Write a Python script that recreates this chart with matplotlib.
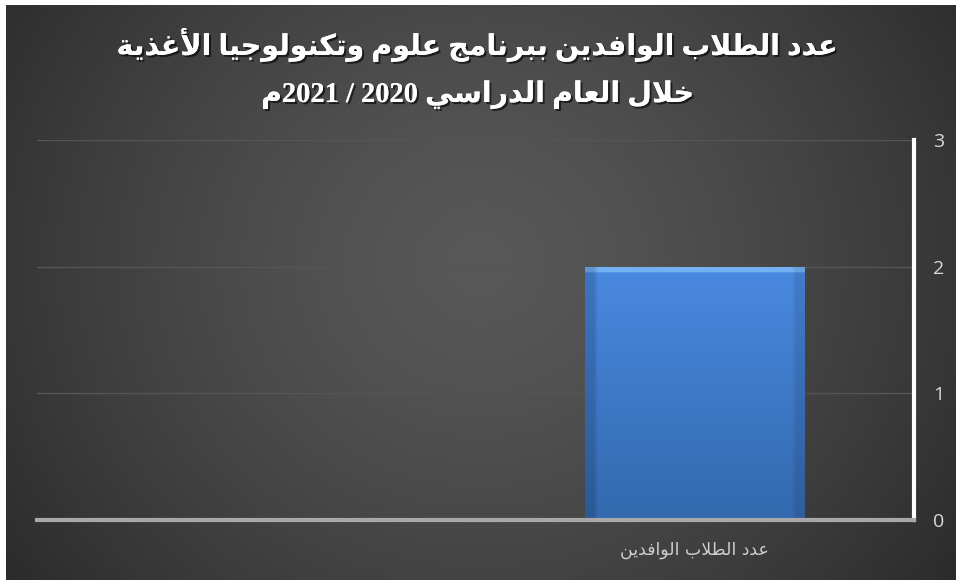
import re
import numpy as np
import matplotlib
matplotlib.use('Agg')
import matplotlib.pyplot as plt
import matplotlib.patheffects as pe

# البيانات
categories = ['عدد الطلاب الوافدين', '']
values = [2, 0]
y_ticks = [0, 1, 2, 3]
title_lines = ['عدد الطلاب الوافدين ببرنامج علوم وتكنولوجيا الأغذية',
               'خلال العام الدراسي 2020 / 2021م']

# اشكال الحروف: منفصل، نهائي، ابتدائي، وسطي
FORMS = {
    'ا': (0xFE8D, 0xFE8E, None, None),
    'أ': (0xFE83, 0xFE84, None, None),
    'ب': (0xFE8F, 0xFE90, 0xFE91, 0xFE92),
    'ة': (0xFE93, 0xFE94, None, None),
    'ت': (0xFE95, 0xFE96, 0xFE97, 0xFE98),
    'ج': (0xFE9D, 0xFE9E, 0xFE9F, 0xFEA0),
    'خ': (0xFEA5, 0xFEA6, 0xFEA7, 0xFEA8),
    'د': (0xFEA9, 0xFEAA, None, None),
    'ذ': (0xFEAB, 0xFEAC, None, None),
    'ر': (0xFEAD, 0xFEAE, None, None),
    'س': (0xFEB1, 0xFEB2, 0xFEB3, 0xFEB4),
    'ط': (0xFEC1, 0xFEC2, 0xFEC3, 0xFEC4),
    'ع': (0xFEC9, 0xFECA, 0xFECB, 0xFECC),
    'غ': (0xFECD, 0xFECE, 0xFECF, 0xFED0),
    'ف': (0xFED1, 0xFED2, 0xFED3, 0xFED4),
    'ك': (0xFED9, 0xFEDA, 0xFEDB, 0xFEDC),
    'ل': (0xFEDD, 0xFEDE, 0xFEDF, 0xFEE0),
    'م': (0xFEE1, 0xFEE2, 0xFEE3, 0xFEE4),
    'ن': (0xFEE5, 0xFEE6, 0xFEE7, 0xFEE8),
    'و': (0xFEED, 0xFEEE, None, None),
    'ي': (0xFEF1, 0xFEF2, 0xFEF3, 0xFEF4),
}
LAM_ALEF = {'ا': (0xFEFB, 0xFEFC, None, None), 'أ': (0xFEF7, 0xFEF8, None, None)}


def shape(text):
    seq = []
    i = 0
    while i < len(text):
        if text[i] == 'ل' and i + 1 < len(text) and text[i + 1] in LAM_ALEF:
            seq.append(LAM_ALEF[text[i + 1]])
            i += 2
        else:
            seq.append(FORMS.get(text[i], text[i]))
            i += 1
    out = []
    for k, item in enumerate(seq):
        if isinstance(item, str):
            out.append(item)
            continue
        prev = seq[k - 1] if k > 0 else None
        nxt = seq[k + 1] if k + 1 < len(seq) else None
        join_prev = isinstance(prev, tuple) and prev[2] is not None
        join_next = isinstance(nxt, tuple) and item[2] is not None
        if join_prev and join_next:
            code = item[3]
        elif join_prev:
            code = item[1]
        elif join_next:
            code = item[2]
        else:
            code = item[0]
        out.append(chr(code))
    rev = ''.join(out)[::-1]
    return re.sub(r'[0-9]+', lambda m: m.group()[::-1], rev)


fig = plt.figure(figsize=(9.56, 5.8), dpi=100)
fig.patch.set_facecolor('white')

# الخلفية
bg = fig.add_axes([6 / 956, 0, 950 / 956, 575 / 580])
gx, gy = np.meshgrid(np.linspace(0, 1, 400), np.linspace(0, 1, 250))
r = np.sqrt(((gx - 0.5) / 0.65) ** 2 + ((gy - 0.45) / 1.0) ** 2)
r = np.clip(r, 0, 1) ** 1.4
shade = 0.345 + (0.155 - 0.345) * r
bg.imshow(np.dstack([shade, shade, shade]), aspect='auto', extent=[0, 1, 0, 1])
bg.axis('off')

ax = fig.add_axes([37 / 956, 60 / 580, 877 / 956, 380 / 580])
ax.set_facecolor('none')
x = np.arange(len(categories))
bars = ax.bar(x, values, width=0.5, color='#3d78c8', linewidth=0, zorder=3)

# تدرج لون العمود
n = 200
t = np.linspace(0, 1, n)[:, None]
top = np.array([0.29, 0.54, 0.88])
bot = np.array([0.20, 0.41, 0.68])
grad = top + (bot - top) * t
grad = np.repeat(grad[:, None, :], 40, axis=1)
bevel = 5
grad[:bevel] = np.array([0.45, 0.70, 0.95])
grad[:, :2] *= 0.9
grad[:, -2:] *= 0.85
for b in bars:
    if b.get_height() > 0:
        im = ax.imshow(grad, aspect='auto', zorder=4,
                       extent=[b.get_x(), b.get_x() + b.get_width(), 0, b.get_height()])
        im.set_clip_path(b)

ax.set_xlim(len(categories) - 0.5, -0.5)
ax.set_ylim(0, 3)
ax.yaxis.tick_right()
ax.set_yticks(y_ticks)
ax.set_xticks(x)
ax.set_xticklabels([shape(c) for c in categories], family='DejaVu Sans')
ax.tick_params(axis='y', length=0, pad=14, labelcolor='#d9d9d9', labelsize=14)
ax.tick_params(axis='x', length=0, pad=15, labelcolor='#cfcfcf', labelsize=12.5)
for lab in ax.get_yticklabels():
    lab.set_family('Open Sans')
ax.grid(axis='y', color='#555555', linewidth=1, zorder=0)
ax.set_axisbelow(True)
ax.spines['top'].set_visible(False)
ax.spines['left'].set_visible(False)
ax.spines['bottom'].set_color('#a8a8a8')
ax.spines['bottom'].set_linewidth(3)
ax.spines['bottom'].set_zorder(5)
ax.spines['right'].set_color('white')
ax.spines['right'].set_linewidth(3)

# العنوان
shadow = [pe.withSimplePatchShadow(offset=(1.5, -1.5), shadow_rgbFace='black', alpha=0.6), pe.Normal()]
for line, yy in zip(title_lines, [1 - 45 / 580, 1 - 95 / 580]):
    fig.text(0.5, yy, shape(line), ha='center', va='center', color='white',
             fontsize=20.5, fontweight='bold', family=['Liberation Serif', 'DejaVu Sans'],
             path_effects=shadow)

fig.savefig('out.png', dpi=100, facecolor=fig.get_facecolor())
